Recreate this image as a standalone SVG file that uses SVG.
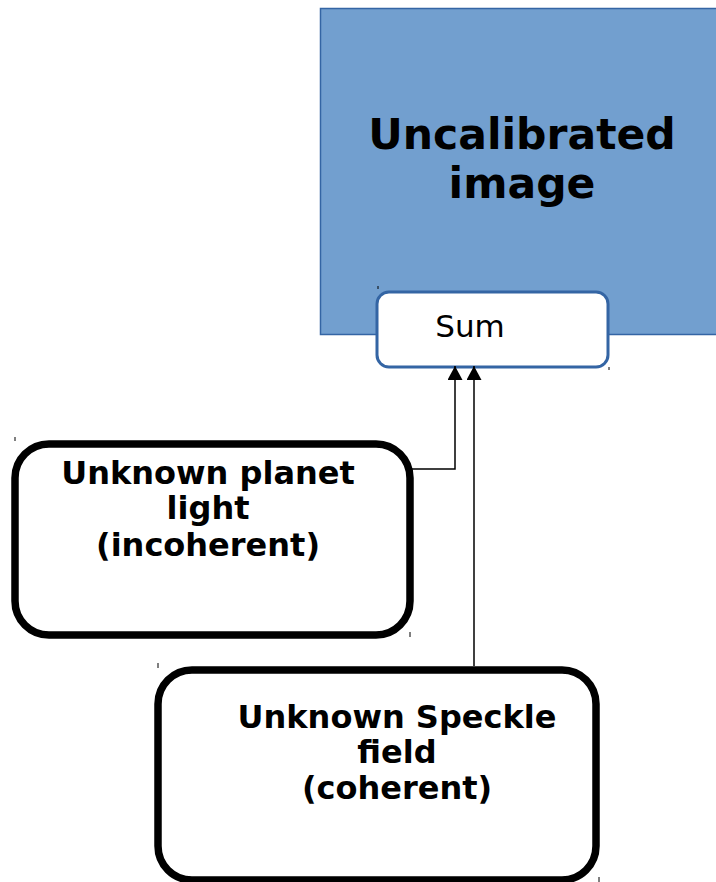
<svg xmlns="http://www.w3.org/2000/svg" width="716" height="882" viewBox="0 0 716 882">
<style>
.bold{font-family:"DejaVu Sans",sans-serif;font-weight:bold;fill:#000;text-anchor:middle}
.box{fill:#fff;stroke:#000;stroke-width:7.5}
.tick{stroke:#000;stroke-width:1}
.conn{fill:none;stroke:#000;stroke-width:1.5}
</style>
<defs>
<marker id="ah" viewBox="0 0 14 15" refX="14" refY="7.5" markerWidth="14" markerHeight="15" markerUnits="userSpaceOnUse" orient="auto">
<path d="M0,0 L14,7.5 L0,15 Z" fill="#000"/>
</marker>
</defs>
<g id="uncalibrated">
<rect x="320.5" y="8.5" width="400" height="326" fill="#729fcf" stroke="#3465a4" stroke-width="1.5"/>
<text class="bold" x="522" y="149" font-size="42.5">Uncalibrated</text>
<text class="bold" x="522" y="198" font-size="42.5">image</text>
</g>
<g id="sum">
<rect x="377" y="292" width="231" height="75" rx="12" fill="#fff" stroke="#3465a4" stroke-width="3"/>
<text x="470" y="337" font-family="DejaVu Sans,sans-serif" font-size="31" text-anchor="middle" fill="#000">Sum</text>
<line class="tick" x1="378" y1="286" x2="378" y2="289"/>
<line class="tick" x1="609" y1="367" x2="609" y2="370"/>
</g>
<g id="planet">
<rect class="box" x="15" y="444" width="395" height="191" rx="34"/>
<text class="bold" x="208" y="484" font-size="32">Unknown planet</text>
<text class="bold" x="208" y="519" font-size="32">light</text>
<text class="bold" x="208" y="556" font-size="32">(incoherent)</text>
<line class="tick" x1="15" y1="437" x2="15" y2="441"/>
<line class="tick" x1="410" y1="632" x2="410" y2="637"/>
</g>
<g id="speckle">
<rect class="box" x="158" y="670" width="438" height="210" rx="34"/>
<text class="bold" x="397" y="728" font-size="32">Unknown Speckle</text>
<text class="bold" x="397" y="763" font-size="32">field</text>
<text class="bold" x="397" y="799" font-size="32">(coherent)</text>
<line class="tick" x1="158" y1="663" x2="158" y2="668"/>
<line class="tick" x1="599" y1="877" x2="599" y2="882"/>
</g>
<g id="connectors">
<path class="conn" d="M411,469 H455 V366" marker-end="url(#ah)"/>
<path class="conn" d="M474,666 V366" marker-end="url(#ah)"/>
</g>
</svg>
